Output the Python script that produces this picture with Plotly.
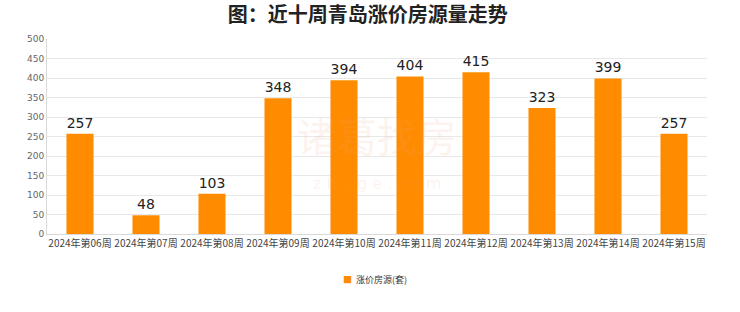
import plotly.graph_objects as go

weeks = ["2024年第06周", "2024年第07周", "2024年第08周", "2024年第09周", "2024年第10周",
         "2024年第11周", "2024年第12周", "2024年第13周", "2024年第14周", "2024年第15周"]
values = [257, 48, 103, 348, 394, 404, 415, 323, 399, 257]
series_name = "涨价房源(套)"
y_ticks = [0, 50, 100, 150, 200, 250, 300, 350, 400, 450, 500]
bar_color = "#FF8C00"

fig = go.Figure()
fig.add_trace(go.Bar(
    x=weeks, y=values, name=series_name,
    marker=dict(color=bar_color, line=dict(width=0)),
    text=[str(v) for v in values], textposition="outside",
    textfont=dict(size=14, color="#222", family="DejaVu Sans"),
    cliponaxis=False, showlegend=False,
))

fig.update_layout(
    width=740, height=312,
    margin=dict(l=47, r=33, t=39, b=78),
    paper_bgcolor="white", plot_bgcolor="white",
    bargap=0.59,
    title=dict(text="<b>图：近十周青岛涨价房源量走势</b>", x=0.497, xanchor="center",
               y=0.952, yanchor="middle",
               font=dict(size=20, color="#222", family="Noto Sans CJK SC")),
    xaxis=dict(showgrid=False, showline=True, linecolor="#d9d9d9", linewidth=1,
               ticks="", tickfont=dict(size=10, color="#444", family="Noto Sans CJK SC"),
               tickangle=0),
    yaxis=dict(range=[0, 500], tickvals=y_ticks, showgrid=True, gridcolor="#e8e8e8",
               showline=True, linecolor="#d9d9d9", linewidth=1, zeroline=False,
               ticks="", tickfont=dict(size=9, color="#666", family="DejaVu Sans")),
    annotations=[
        dict(text="诸葛找房", x=0.5, y=0.51, xref="paper", yref="paper", showarrow=False,
             font=dict(size=40, color="rgba(240,160,120,0.15)", family="Noto Sans CJK SC")),
        dict(text="z h u g e . c o m", x=0.5, y=0.2, xref="paper", yref="paper", showarrow=False,
             font=dict(size=16, color="rgba(240,160,120,0.15)", family="DejaVu Sans")),
        dict(text=f"<span style='color:{bar_color}'>■</span>  {series_name}",
             x=0.497, y=-0.235, xref="paper", yref="paper", showarrow=False,
             xanchor="center", yanchor="middle",
             font=dict(size=9, color="#333", family="Noto Sans CJK SC")),
    ],
)

fig.write_html("out.html")
